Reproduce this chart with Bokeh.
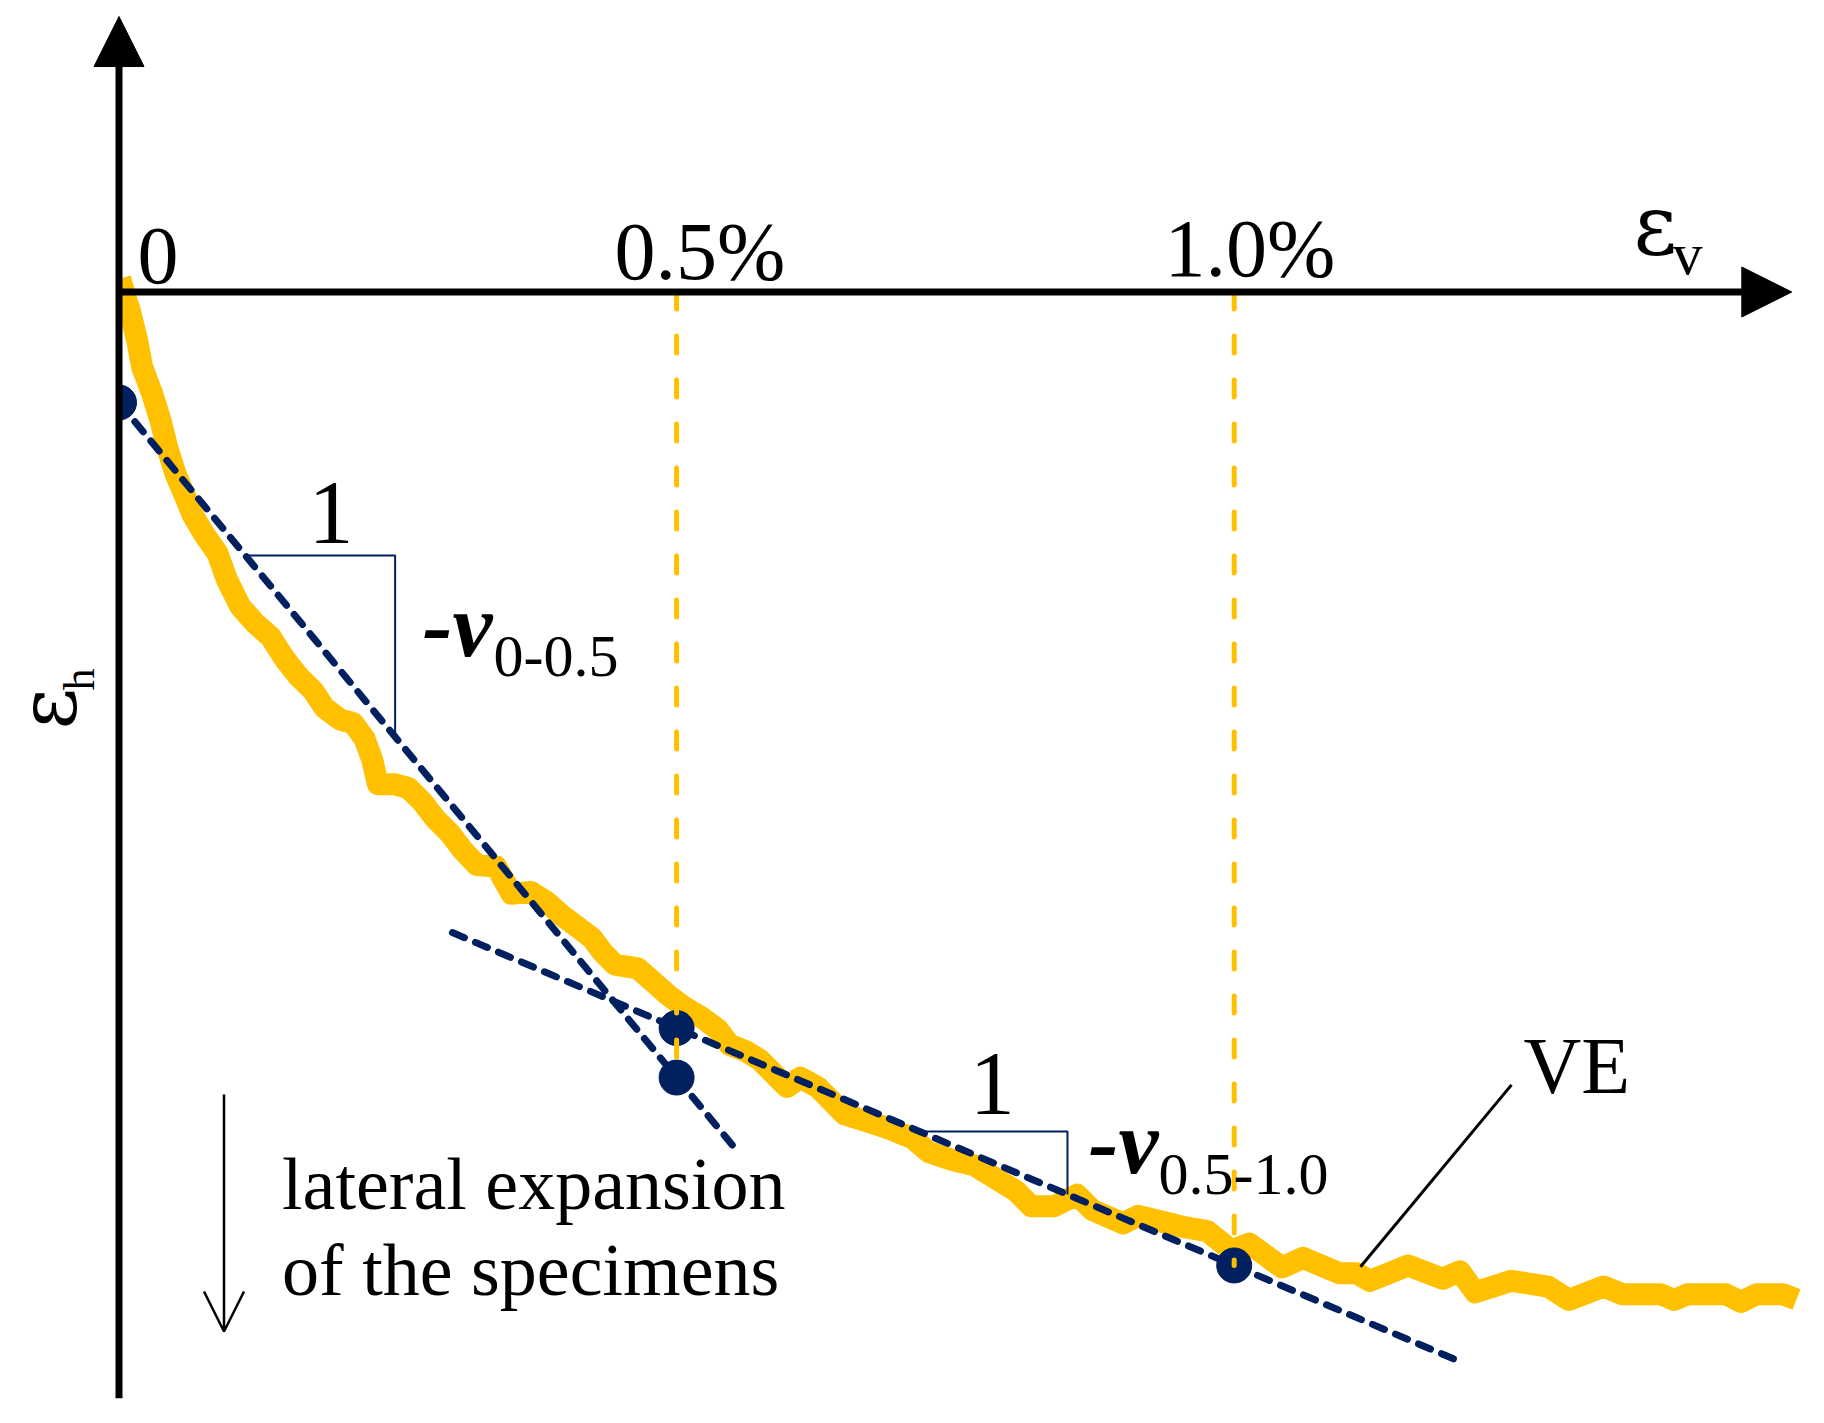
from math import pi

from bokeh.embed import file_html
from bokeh.models import Arrow, Label, NormalHead, OpenHead, Range1d
from bokeh.plotting import figure
from bokeh.resources import INLINE

GOLD = "#FFC000"
NAVY = "#002060"
FONT = "Liberation Serif"
GREEK = "DejaVu Serif"

# VE curve: vertical strain ev (%) against horizontal strain eh (%)
ve_ev = [0.001, 0.0067, 0.0097, 0.0163, 0.0208, 0.0298, 0.0372, 0.0432, 0.0507, 0.0596,
         0.0659, 0.0760, 0.0881, 0.0967, 0.1087, 0.1224, 0.1361, 0.1481, 0.1601, 0.1739,
         0.1842, 0.1979, 0.2099, 0.2201, 0.2270, 0.2322, 0.2477, 0.2596, 0.2717, 0.2837,
         0.2973, 0.3077, 0.3210, 0.3382, 0.3520, 0.3691, 0.3828, 0.3965, 0.4102, 0.4240,
         0.4343, 0.4446, 0.4652, 0.4789, 0.4926, 0.5064, 0.5235, 0.5372, 0.5475, 0.5612,
         0.5750, 0.5870, 0.5990, 0.6110, 0.6264, 0.6367, 0.6505, 0.6711, 0.6917, 0.7122,
         0.7260, 0.7466, 0.7671, 0.7904, 0.8042, 0.8179, 0.8385, 0.8590, 0.8728, 0.9003,
         0.9140, 0.9345, 0.9552, 0.9758, 0.9976, 1.0136, 1.0428, 1.0617, 1.0942, 1.1097,
         1.1217, 1.1560, 1.1869, 1.2024, 1.2161, 1.2486, 1.2813, 1.3001, 1.3311, 1.3482,
         1.3825, 1.3945, 1.4065, 1.4408, 1.4545, 1.4684, 1.4923, 1.5042]
ve_eh = [0.0121, -0.0076, -0.0166, -0.0435, -0.0674, -0.0913, -0.1152, -0.1392, -0.1631, -0.1840,
         -0.1995, -0.2167, -0.2339, -0.2578, -0.2820, -0.2973, -0.3094, -0.3283, -0.3437, -0.3573,
         -0.3728, -0.3832, -0.3866, -0.4004, -0.4192, -0.4415, -0.4415, -0.4449, -0.4569, -0.4724,
         -0.4861, -0.4999, -0.5139, -0.5152, -0.5396, -0.5379, -0.5464, -0.5585, -0.5688, -0.5791,
         -0.5928, -0.6031, -0.6065, -0.6185, -0.6306, -0.6409, -0.6512, -0.6614, -0.6751, -0.6803,
         -0.6888, -0.7009, -0.7129, -0.7044, -0.7129, -0.7232, -0.7374, -0.7438, -0.7506, -0.7592,
         -0.7712, -0.7781, -0.7832, -0.7976, -0.8060, -0.8198, -0.8198, -0.8095, -0.8232, -0.8352,
         -0.8284, -0.8335, -0.8386, -0.8421, -0.8595, -0.8532, -0.8747, -0.8661, -0.8798, -0.8798,
         -0.8867, -0.8729, -0.8849, -0.8781, -0.8970, -0.8867, -0.8918, -0.9039, -0.8918, -0.8987,
         -0.8987, -0.9039, -0.8987, -0.8987, -0.9056, -0.8987, -0.8987, -0.9034]

# points that define the two secants (v 0-0.5 through pts 0 and 2, v 0.5-1.0 through pts 1 and 3)
pt_ev = [0.0, 0.5, 0.5, 1.0]
pt_eh = [-0.0991, -0.660, -0.7044, -0.8729]

# ev extent of each dashed secant
sec1_span = [0.0, 0.551]
sec2_span = [0.299, 1.197]

# slope triangles: where the horizontal leg starts and how long it runs
tri_start = [0.1134, 0.7178]
tri_run = [0.1342, 0.1327]

# guide lines at the reference strains
guide_ev = [0.5, 1.0]
guide_bottom = [-0.686, -0.873]

tick_text = ["0", "0.5%", "1.0%"]

# extents of the hand-drawn axes
x_axis_end = 1.5
y_axis_top = 0.247
y_axis_bottom = -0.992

# page layout: pixels per 1 % strain and pixel position of the origin
PX = 1115.2
OX, OY = 118.5, 291.5
W, H = 1824, 1423
# Label's alphabetic anchor sits this fraction of the font size below the glyph baseline
BASE_SHIFT = 0.34


def at(xp, yp):
    """Page pixel position -> strain coordinates."""
    return (xp - OX) / PX, (OY - yp) / PX


def secant(i, j):
    slope = (pt_eh[j] - pt_eh[i]) / (pt_ev[j] - pt_ev[i])
    return lambda x: pt_eh[i] + slope * (x - pt_ev[i])


p = figure(width=W, height=H,
           x_range=Range1d(at(0, 0)[0], at(W, 0)[0]),
           y_range=Range1d(at(0, H)[1], at(0, 0)[1]),
           output_backend="svg", toolbar_location=None, min_border=0,
           x_axis_location=None, y_axis_location=None,
           outline_line_color=None, background_fill_color="white",
           border_fill_color="white")
p.grid.visible = False

# VE curve
p.line(ve_ev, ve_eh, line_color=GOLD, line_width=22, line_join="round", line_cap="butt")

# secants
f1 = secant(0, 2)
f2 = secant(1, 3)
for span, f in ((sec1_span, f1), (sec2_span, f2)):
    p.line(span, [f(x) for x in span], line_color=NAVY, line_width=7,
           line_dash="13 12", line_cap="round")

# slope triangles
for f, x0, run in ((f1, tri_start[0], tri_run[0]), (f2, tri_start[1], tri_run[1])):
    p.line([x0, x0 + run, x0 + run], [f(x0), f(x0), f(x0 + run)],
           line_color=NAVY, line_width=2)

p.scatter(pt_ev, pt_eh, size=35, color=NAVY)

# dashed guides at 0.5 % and 1.0 %
p.segment(x0=guide_ev, y0=[0, 0], x1=guide_ev, y1=guide_bottom,
          line_color=GOLD, line_width=5, line_dash="17 27", line_cap="round")

# nothing is drawn left of the vertical axis
p.quad(left=[at(0, 0)[0]], right=[0], bottom=[at(0, H)[1]], top=[at(0, 0)[1]],
       fill_color="white", line_color=None)

# axes with arrowheads
p.add_layout(Arrow(end=NormalHead(size=50, fill_color="black", line_color="black", line_width=1),
                   x_start=0, y_start=0, x_end=x_axis_end, y_end=0,
                   line_width=7, line_color="black"))
p.add_layout(Arrow(end=NormalHead(size=50, fill_color="black", line_color="black", line_width=1),
                   x_start=0, y_start=y_axis_bottom, x_end=0, y_end=y_axis_top,
                   line_width=7, line_color="black"))

# lateral expansion arrow
ax, ay0 = at(223.5, 1094)
_, ay1 = at(223.5, 1331)
p.add_layout(Arrow(end=OpenHead(size=40, line_color="black", line_width=2.5),
                   x_start=ax, y_start=ay0, x_end=ax, y_end=ay1,
                   line_width=2.5, line_color="black"))

# VE leader line
lx0, ly0 = at(1511, 1084.4)
lx1, ly1 = at(1360, 1266.2)
p.line([lx0, lx1], [ly0, ly1], line_color="black", line_width=3)


def label(text, xp, yp, size, align="left", style="normal", angle=0.0, font=FONT):
    if angle:
        xp -= BASE_SHIFT * size
    else:
        yp -= BASE_SHIFT * size
    x, y = at(xp, yp)
    p.add_layout(Label(x=x, y=y, text=text, text_font=font, text_font_size=f"{size}px",
                       text_font_style=style, text_align=align, text_baseline="alphabetic",
                       text_color="black", angle=angle))


# tick labels
for t, cx, base in zip(tick_text, [157.5, 699.5, 1249.5], [283, 279, 276]):
    label(t, cx, base, 82, align="center")

# axis titles
label("\u03b5", 1633, 252.6, 84, font=GREEK)
label("v", 1672, 274, 60)
label("\u03b5", 74, 729, 80, angle=pi / 2, font=GREEK)
label("h", 94, 690, 44, angle=pi / 2)

# slope annotations
label("1", 330.5, 543, 90, align="center")
label("-v", 422, 655.6, 90, style="bold italic")
label("0-0.5", 493, 676.7, 60)
label("1", 991.7, 1114, 90, align="center")
label("-v", 1088, 1173, 90, style="bold italic")
label("0.5-1.0", 1158, 1194, 60)

label("VE", 1523, 1092.8, 80)
label("lateral expansion", 281.5, 1209, 74)
label("of the specimens", 281.5, 1294.5, 74)

open("out.html", "w").write(file_html(p, INLINE))
